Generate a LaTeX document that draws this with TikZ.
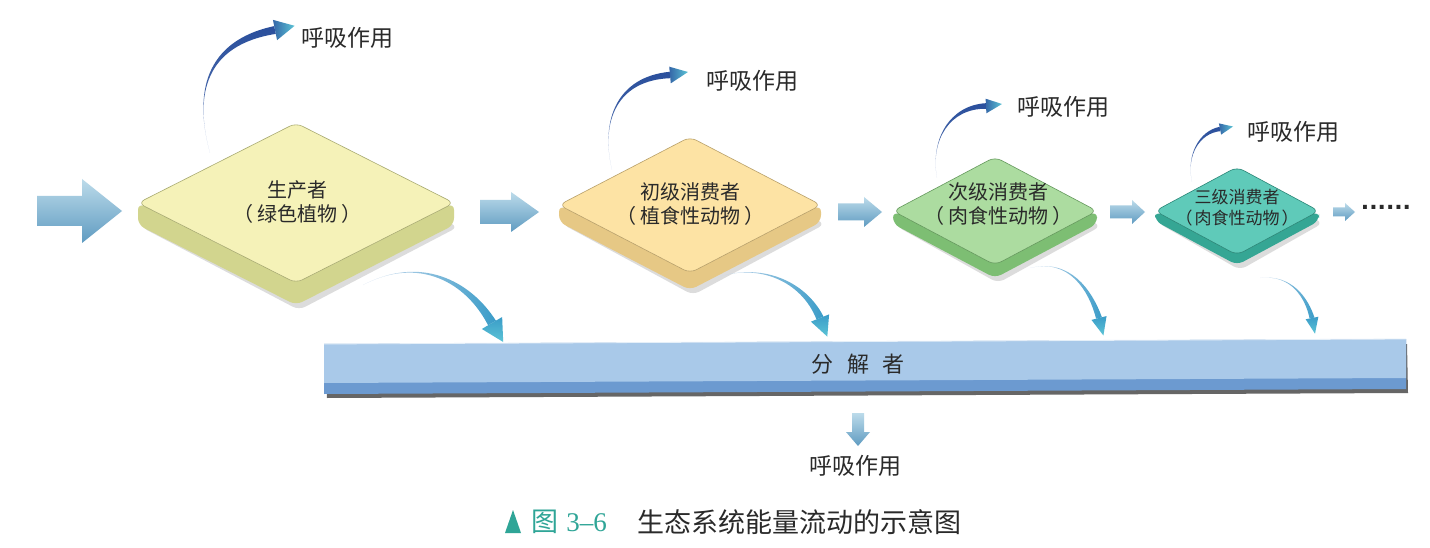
\documentclass[tikz,border=0pt]{standalone}
\usepackage{fontspec}
\newfontfamily\cjk{Noto Sans CJK SC}
\newfontfamily\dvs{DejaVu Sans}
\newfontfamily\lser{Liberation Serif}
\usetikzlibrary{calc}
\definecolor{txt}{HTML}{2A2A2A}
\definecolor{teal2}{HTML}{2FA597}
\definecolor{arrtop}{HTML}{BCDBEA}
\definecolor{arrbot}{HTML}{5F9BC1}
\definecolor{decface}{HTML}{A9C9E9}
\definecolor{decside}{HTML}{6C9AD0}
\definecolor{pTop}{HTML}{F5F2B8}\definecolor{pSide}{HTML}{D2D58E}
\definecolor{aTop}{HTML}{FDE3A4}\definecolor{aSide}{HTML}{E6C885}
\definecolor{bTop}{HTML}{ACDCA0}\definecolor{bSide}{HTML}{7DBE73}
\definecolor{cTop}{HTML}{5FCAB9}\definecolor{cSide}{HTML}{35A694}
\definecolor{tailc}{HTML}{D3DEF1}
\definecolor{navy}{HTML}{2A4F9C}
\definecolor{tealb}{HTML}{3A9CC8}
\definecolor{tealh}{HTML}{5CC4D6}
\tikzset{
  lab/.style={font=\cjk\fontsize{23}{26}\selectfont, text=txt, inner sep=0pt},
  dlab/.style={font=\cjk\fontsize{20}{24}\selectfont, text=txt, inner sep=0pt},
  slab/.style={font=\cjk\fontsize{17}{20}\selectfont, text=txt, inner sep=0pt},
  upbody/.style={bottom color=tailc, top color=navy, middle color=navy!85!tailc},
  uphead/.style={left color=navy!80!tealh, right color=tealh},
  dnbody/.style={left color=tailc, middle color=navy, right color=tealb},
  dnhead/.style={top color=tealb, bottom color=tealh},
}
% #1 cx, #2 cy, #3 hw, #4 hh, #5 thickness, #6 top, #7 side
\newcommand\slabshape[7]{%
  \fill[black!30, opacity=0.45, rounded corners=7pt] ({#1-#3+3},{#2+#5+2}) -- ({#1+3},{#2-#4+#5+2}) -- ({#1+#3+4},{#2+#5+2}) -- ({#1+3},{#2+#4+#5+5}) -- cycle;
  \fill[#7, rounded corners=7pt] ({#1-#3},{#2}) -- ({#1-#3},{#2+#5}) -- ({#1},{#2+#4+#5}) -- ({#1+#3},{#2+#5}) -- ({#1+#3},{#2}) -- ({#1},{#2+#4}) -- cycle;
  \fill[#6, draw=#7!80!black, line width=0.6pt, rounded corners=7pt] ({#1-#3},{#2}) -- ({#1},{#2-#4}) -- ({#1+#3},{#2}) -- ({#1},{#2+#4}) -- cycle;
}
% #1 x0, #2 head x, #3 tip x, #4 yc, #5 shaft half, #6 head half
\newcommand\blockarrow[6]{%
  \shade[top color=arrtop, bottom color=arrbot] (#1,{#4-#5}) -- (#2,{#4-#5}) -- (#2,{#4-#6}) -- (#3,#4) -- (#2,{#4+#6}) -- (#2,{#4+#5}) -- (#1,{#4+#5}) -- cycle;
}
% #1 T, #2 C1, #3 C2, #4 E, #5 n, #6 tip, #7 body, #8 head
\newcommand\flowcurve[8]{%
  \shade[#7] (#1) .. controls (#2) and (#3) .. ($(#4)+(#5)$) -- ($(#4)-(#5)$) .. controls ($(#3)-(#5)$) and ($(#2)-0.3*(#5)$) .. (#1) -- cycle;
  \shade[#8] ($(#4)+2.6*(#5)$) -- (#6) -- ($(#4)-2.6*(#5)$) -- cycle;
}
\begin{document}
\begin{tikzpicture}[x=1pt,y=-1pt]
\useasboundingbox (0,0) rectangle (1430,548);
\fill[white] (0,0) rectangle (1430,548);

% decomposer bar
\fill[black!60] (326,349) -- (1407,344) -- (1408,393) -- (327,398) -- cycle;
\fill[decside] (324,344) -- (1406,339) -- (1406,389) -- (324,394) -- cycle;
\fill[decface] (324,344) -- (1406,339) -- (1406,378) -- (324,383) -- cycle;
\draw[white!70!decface, line width=0.8pt] (324,344) -- (1406,339);
\node[font=\cjk\fontsize{22}{26}\selectfont, text=txt, inner sep=0pt] (dec) at (858,364) {分\hspace{14pt}解\hspace{14pt}者};

% up respiration curves
\flowcurve{210,153}{194,95}{205,45}{275,30}{0.8,3.9}{294.6,25.8}{upbody}{uphead}
\flowcurve{612,170}{600,120}{618,80}{670,75}{0.3,3.2}{688,72}{upbody}{uphead}
\flowcurve{937,178}{930,140}{950,108}{986,106}{0.15,2.8}{1002,104}{upbody}{uphead}
\flowcurve{1192,182}{1186,155}{1200,133}{1220,129}{0.43,2.16}{1233,126.5}{upbody}{uphead}

% slabs
\slabshape{296}{203}{158}{80}{22}{pTop}{pSide}
\slabshape{690}{205}{131}{68}{17}{aTop}{aSide}
\slabshape{995}{211}{102}{54}{13}{bTop}{bSide}
\slabshape{1237}{211}{82}{44}{10}{cTop}{cSide}

% down curves to decomposer
\flowcurve{363,285}{420,255}{470,280}{492,323}{3.9,-2.3}{503.2,342}{dnbody}{dnhead}
\flowcurve{715,278}{760,262}{805,280}{820,318}{3.5,-1.4}{827.3,336.6}{dnbody}{dnhead}
\flowcurve{1030,268}{1070,258}{1092,290}{1099,318}{2.9,-0.73}{1103.4,335.5}{dnbody}{dnhead}
\flowcurve{1260,278}{1292,274}{1308,298}{1312,318}{2.45,-0.49}{1315,333.7}{dnbody}{dnhead}

% block arrows
\blockarrow{37}{82}{122}{211}{15}{32}
\blockarrow{480}{511}{539}{212}{12}{20}
\blockarrow{838}{864}{882}{212}{8.5}{15}
\blockarrow{1110}{1132}{1145}{212}{6.5}{12}
\blockarrow{1333}{1345}{1355}{212}{4.5}{9}
\node[font=\dvs\bfseries\fontsize{22}{24}\selectfont, text=txt, inner sep=0pt] (dots) at (1386,207) {......};

% down arrow from decomposer
\shade[top color=arrtop, bottom color=arrbot] (852,413) -- (864,413) -- (864,432) -- (870,432) -- (858,446) -- (846,432) -- (852,432) -- cycle;

% labels
\node[dlab] (p1) at (297,190) {生产者};
\node[dlab] (p2) at (297,214) {（\hspace{4pt}绿色植物\hspace{4pt}）};
\node[dlab] (a1) at (690,192) {初级消费者};
\node[dlab] (a2) at (690,216) {（\hspace{4pt}植食性动物\hspace{4pt}）};
\node[dlab] (b1) at (998,192) {次级消费者};
\node[dlab] (b2) at (998,216) {（\hspace{4pt}肉食性动物\hspace{4pt}）};
\node[slab] (c1) at (1237,197) {三级消费者};
\node[slab] (c2) at (1237,218) {（\hspace{2pt}肉食性动物\hspace{2pt}）};

\node[lab] (r1) at (347,38) {呼吸作用};
\node[lab] (r2) at (752,81) {呼吸作用};
\node[lab] (r3) at (1063,107) {呼吸作用};
\node[lab] (r4) at (1293,132) {呼吸作用};
\node[lab] (r5) at (855,466) {呼吸作用};

% caption
\fill[teal2] (505,533) -- (513,510) -- (521,533) -- cycle;
\node[anchor=west, inner sep=0pt, text=teal2, font=\fontsize{27}{30}\selectfont] (fig) at (531,522) {{\cjk 图} {\lser 3–6}};
\node[anchor=west, inner sep=0pt, text=txt, font=\cjk\fontsize{27}{30}\selectfont] (cap) at (637,522) {生态系统能量流动的示意图};
\end{tikzpicture}
\end{document}
